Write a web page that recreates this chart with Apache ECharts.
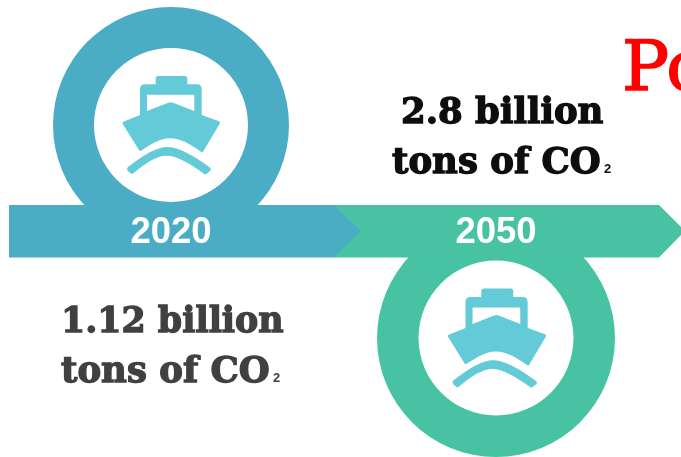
<!DOCTYPE html>
<html>
<head>
<meta charset="utf-8">
<script src="https://cdn.jsdelivr.net/npm/echarts@6/dist/echarts.min.js"></script>
<style>
html,body{margin:0;padding:0;background:#fff;overflow:hidden}
#chart{width:681px;height:457px}
</style>
</head>
<body>
<div id="chart"></div>
<script>
// Emission figures per milestone year
const years = ['2020', '2050'];
const co2Billions = ['1.12', '2.8'];
const unitLine = 'tons of CO';
const subscript = '2';
const headingFragment = 'Po';

const BLUE = '#4BACC6', GREEN = '#47C3A4', SHIP = '#63CAD8';
const SERIF = 'DejaVu Serif';
const SANS = 'Liberation Sans';

// Ship icon outlines
const hullPath = 'M347 236 Q347 228 355 228 L434 228 Q442 228 442 236 L442 253 L470 253 Q485 253 485 268 L485 345 ' +
  'L537 364 Q541 366 539 371 L490 454 Q488 458 484 456 C450 432 420 415 390 415 C360 415 335 432 303 452 Q299 454 297 450 ' +
  'L248 371 Q246 367 250 365 L300 345 L300 268 Q300 253 315 253 L347 253 Z ' +
  'M321 284 L321 333 L385 308 Q392 305 399 308 L463 333 L463 288 Q463 284 459 284 Z';
const wavePath = 'M263 502 C310 465 350 441 382 441 C415 441 460 465 511 504 Q514 508 511 512 L500 521 Q496 524 492 521 ' +
  'C450 490 410 467 380 467 C350 467 315 490 280 520 Q276 523 272 520 L264 513 Q259 508 263 502 Z';

// One icon per year, placed in page pixels
const shipPlacement = [
  { x: 40, y: 0, s: 1 / 3 },
  { x: 364.7, y: 212, s: 1.008 / 3 }
];

function renderShip(params) {
  const p = shipPlacement[params.dataIndex];
  return {
    type: 'group', x: p.x, y: p.y, scaleX: p.s, scaleY: p.s,
    children: [hullPath, wavePath].map(pathData => ({
      type: 'path', shape: { pathData }, style: { fill: SHIP }
    }))
  };
}

function ringSeries(i, color, cx, cy, inner, outer) {
  return {
    type: 'pie', name: years[i], silent: true, animation: false,
    center: [cx, cy], radius: [inner, outer], z: 1,
    label: { show: false }, labelLine: { show: false },
    itemStyle: { color },
    data: [{ name: years[i], value: +co2Billions[i] }]
  };
}

// Text is anchored on its vertical middle; drop is the middle-to-baseline share of the size
function txt(text, x, baseline, opts) {
  const size = opts.size;
  return {
    type: 'text', x, y: baseline - size * opts.drop, z: 30, silent: true,
    style: {
      text, fill: opts.fill, fontFamily: opts.family, fontSize: size,
      fontWeight: opts.weight || 'bold', align: opts.align || 'left', verticalAlign: 'middle',
      stroke: opts.stroke ? opts.fill : null, lineWidth: opts.stroke || 0
    }
  };
}

function poly(points, fill, z) {
  return { type: 'polygon', z, silent: true, shape: { points }, style: { fill } };
}

const heavy = (fill, size) => ({ family: SERIF, size, fill, stroke: 1.3, drop: 0.26 });
const yearFont = { family: SANS, size: 36.5, fill: '#fff', align: 'center', drop: 0.32 };
const subFont = fill => ({ family: SANS, size: 13, fill, drop: 0.28 });

const chart = echarts.init(document.getElementById('chart'), null, { renderer: 'canvas' });
chart.setOption({
  animation: false,
  backgroundColor: '#fff',
  series: [
    ringSeries(0, BLUE, 171, 125, 77, 118),
    ringSeries(1, GREEN, 496, 338, 77.5, 119),
    { type: 'custom', coordinateSystem: 'none', silent: true, animation: false, z: 5, renderItem: renderShip,
      data: years.map((y, i) => [i]) }
  ],
  graphic: { elements: [
    // Timeline arrows: the green one runs underneath the blue tip
    poly([[333, 205], [659, 205], [685, 231], [659, 257.5], [333, 257.5]], GREEN, 10),
    poly([[9, 205], [333.5, 205], [360.5, 231], [333.5, 257.5], [9, 257.5]], BLUE, 11),
    txt(years[0], 171, 245, yearFont),
    txt(years[1], 496, 245, yearFont),
    txt(co2Billions[1] + ' billion', 401, 123, heavy('#0d0d0d', 35.5)),
    txt(unitLine, 392, 173, heavy('#0d0d0d', 35.5)),
    txt(subscript, 604, 173, subFont('#0d0d0d')),
    txt(co2Billions[0] + ' billion', 61, 332, heavy('#404040', 34.8)),
    txt(unitLine, 61, 382, heavy('#404040', 35.5)),
    txt(subscript, 273, 382, subFont('#404040')),
    txt(headingFragment, 622, 90, { family: SERIF, size: 70, fill: '#FF0000', weight: 'normal', stroke: 1.5, drop: 0.26 })
  ] }
});
</script>
</body>
</html>
